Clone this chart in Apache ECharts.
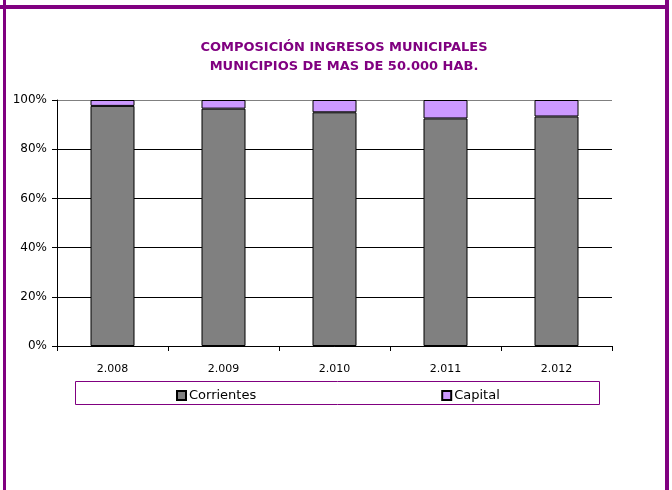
<!DOCTYPE html>
<html>
<head>
<meta charset="utf-8">
<script src="https://cdn.jsdelivr.net/npm/echarts@6/dist/echarts.min.js"></script>
<style>
  html, body { margin: 0; padding: 0; background: #fff; }
  #chart { width: 672px; height: 490px; }
</style>
</head>
<body>
<div id="chart"></div>
<script>
// datos (% sobre el total)
const years = ['2.008', '2.009', '2.010', '2.011', '2.012']
const corrientes = [97.6, 96.5, 95.0, 92.5, 93.3]
const capital = [2.4, 3.5, 5.0, 7.5, 6.7]
const yTicks = [0, 20, 40, 60, 80, 100]

const purple = '#800080'
const font = 'DejaVu Sans'

const myChart = echarts.init(document.getElementById('chart'))
const options = {
  animation: false,
  textStyle: { fontFamily: font },
  title: {
    text: 'COMPOSICIÓN INGRESOS MUNICIPALES\nMUNICIPIOS DE MAS DE 50.000 HAB.',
    left: 339,
    top: 33,
    textAlign: 'center',
    textStyle: { color: purple, fontSize: 13, fontWeight: 'bold', lineHeight: 19, fontFamily: font }
  },
  graphic: [
    // marco morado
    { type: 'rect', shape: { x: 0, y: 5, width: 669, height: 4 }, style: { fill: purple }, silent: true },
    { type: 'rect', shape: { x: 3, y: 0, width: 3, height: 490 }, style: { fill: purple }, silent: true },
    { type: 'rect', shape: { x: 665, y: 0, width: 4, height: 490 }, style: { fill: purple }, silent: true },
    // caja de la leyenda
    { type: 'rect', shape: { x: 75.5, y: 381.5, width: 524, height: 23 }, style: { fill: 'none', stroke: purple, lineWidth: 1 }, silent: true }
  ],
  legend: {
    left: 171,
    top: 384,
    itemGap: 185,
    itemWidth: 9,
    itemHeight: 9,
    icon: 'rect',
    textStyle: { fontSize: 13, color: '#000', fontFamily: font, padding: [0, 0, 0, -2] },
    data: ['Corrientes', 'Capital']
  },
  grid: { left: 57, right: 60, top: 100, bottom: 144 },
  xAxis: {
    type: 'category',
    data: years,
    axisLine: { lineStyle: { color: '#000', width: 1 } },
    axisTick: { show: true, length: 5, lineStyle: { color: '#000' } },
    axisLabel: { color: '#000', fontSize: 11, margin: 18 }
  },
  yAxis: {
    type: 'value',
    min: 0,
    max: 100,
    interval: 20,
    axisLine: { show: true, lineStyle: { color: '#000' } },
    axisTick: { show: true, length: 5, inside: false, lineStyle: { color: '#000' } },
    axisLabel: {
      color: '#000',
      fontSize: 12,
      margin: 10,
      formatter: (v) => (yTicks.includes(v) ? v + '%' : '')
    },
    splitLine: {
      lineStyle: {
        color: yTicks.map((v) => (v === 100 ? '#808080' : '#000')),
        width: 1
      }
    }
  },
  series: [
    {
      name: 'Corrientes',
      type: 'bar',
      stack: 'total',
      barWidth: 44,
      itemStyle: { color: '#808080', borderColor: '#000', borderWidth: 1 },
      data: corrientes
    },
    {
      name: 'Capital',
      type: 'bar',
      stack: 'total',
      barWidth: 44,
      itemStyle: { color: '#CC99FF', borderColor: '#000', borderWidth: 1 },
      data: capital
    }
  ]
}
myChart.setOption(options)
</script>
</body>
</html>
